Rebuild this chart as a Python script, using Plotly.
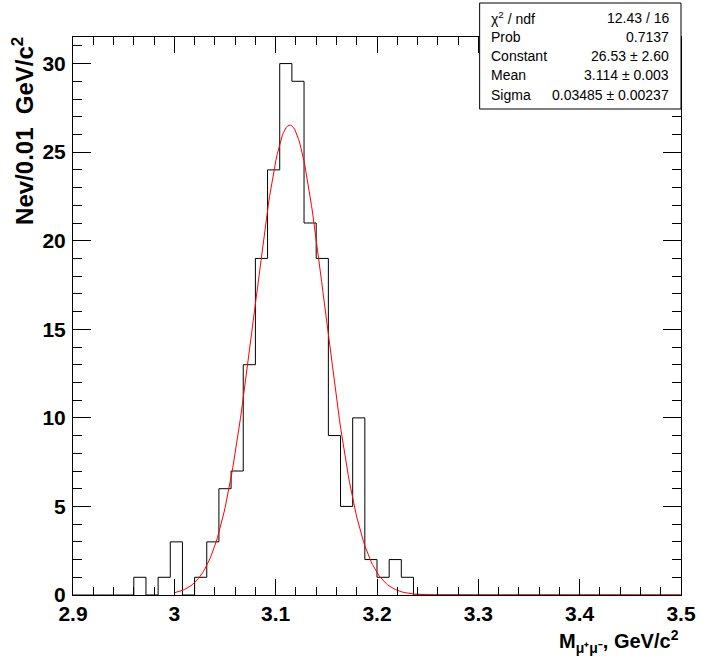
import numpy as np
import plotly.graph_objects as go

# ---------------- data ----------------
hist_low = 2.9
hist_high = 3.5
bin_width = 0.012
counts = [0, 0, 0, 0, 0, 1, 0, 1, 3, 0,
          1, 3, 6, 7, 13, 19, 24, 30, 29, 21,
          19, 9, 5, 10, 2, 1, 2, 1, 0, 0,
          0, 0, 0, 0, 0, 0, 0, 0, 0, 0,
          0, 0, 0, 0, 0, 0, 0, 0, 0, 0]

fit_constant = 26.53
fit_mean = 3.114
fit_sigma = 0.03485
fit_range = [3.0, 3.5]

stat_labels = ["χ<sup>2</sup> / ndf", "Prob", "Constant", "Mean", "Sigma"]
stat_values = ["12.43 / 16", "0.7137", "26.53 ± 2.60", "3.114 ± 0.003", "0.03485 ± 0.00237"]

x_title = "M<sub>μ⁺μ⁻</sub>, GeV/c<sup>2</sup>"
y_title = "Nev/0.01  GeV/c<sup>2</sup>"

# ---------------- figure ----------------
W, H = 708, 661
ML, MR, MT, MB = 73, 16, 37, 66
PW, PH = W - ML - MR, H - MT - MB

def px_x(p):
    return (p - ML) / PW

def px_y(p):
    return (H - MB - p) / PH

edges = [hist_low + i * bin_width for i in range(len(counts) + 1)]
hx = edges
hy = counts + [counts[-1]]

fx = np.linspace(fit_range[0], fit_range[1], 400)
fy = fit_constant * np.exp(-0.5 * ((fx - fit_mean) / fit_sigma) ** 2)

fig = go.Figure()
fig.add_trace(go.Scatter(x=hx, y=hy, mode="lines", line=dict(color="black", width=1, shape="hv"),
                         showlegend=False, hoverinfo="skip"))
fig.add_trace(go.Scatter(x=fx, y=fy, mode="lines", line=dict(color="red", width=1),
                         showlegend=False, hoverinfo="skip"))

tickfont = dict(family="Liberation Sans", size=21, color="black", weight="bold")

fig.update_xaxes(range=[hist_low, hist_high], tick0=2.9, dtick=0.1, ticks="inside", ticklen=16,
                 tickwidth=1, tickcolor="black", showline=True, linecolor="black", linewidth=1,
                 mirror="allticks", showgrid=False, zeroline=False, tickfont=tickfont,
                 minor=dict(tick0=2.9, dtick=0.02, ticks="inside", ticklen=8, tickcolor="black",
                            tickwidth=1, showgrid=False))
fig.update_yaxes(range=[0, 31.5], tick0=0, dtick=5, ticks="inside", ticklen=18,
                 tickwidth=1, tickcolor="black", showline=True, linecolor="black", linewidth=1,
                 mirror="allticks", showgrid=False, zeroline=False, tickfont=tickfont,
                 ticklabelstandoff=2,
                 minor=dict(tick0=0, dtick=1, ticks="inside", ticklen=9, tickcolor="black",
                            tickwidth=1, showgrid=False))

annotations = []
annotations.append(dict(text=y_title, textangle=-90, xref="paper", yref="paper",
                        x=px_x(22), y=px_y(35), xanchor="center", yanchor="top", showarrow=False,
                        font=dict(family="Liberation Sans", size=24, color="black", weight="bold")))
annotations.append(dict(text=x_title, xref="paper", yref="paper",
                        x=px_x(692), y=px_y(641), xanchor="right", yanchor="middle", showarrow=False,
                        font=dict(family="Liberation Sans", size=20, color="black", weight="bold")))

row_centers = [18, 37, 56, 75, 95]
for lab, val, yc in zip(stat_labels, stat_values, row_centers):
    annotations.append(dict(text=lab, xref="paper", yref="paper", x=px_x(497), y=px_y(yc),
                            xanchor="left", yanchor="middle", showarrow=False,
                            font=dict(family="Liberation Sans", size=14, color="black")))
    annotations.append(dict(text=val, xref="paper", yref="paper", x=px_x(682), y=px_y(yc),
                            xanchor="right", yanchor="middle", showarrow=False,
                            font=dict(family="Liberation Sans", size=14, color="black")))

shapes = [dict(type="rect", xref="paper", yref="paper", x0=px_x(487), x1=px_x(692),
               y0=px_y(109), y1=px_y(3), fillcolor="white", line=dict(color="black", width=1),
               layer="above")]

fig.update_layout(width=W, height=H, margin=dict(l=ML, r=MR, t=MT, b=MB),
                  plot_bgcolor="white", paper_bgcolor="white",
                  annotations=annotations, shapes=shapes, showlegend=False)

fig.write_html("out.html")
